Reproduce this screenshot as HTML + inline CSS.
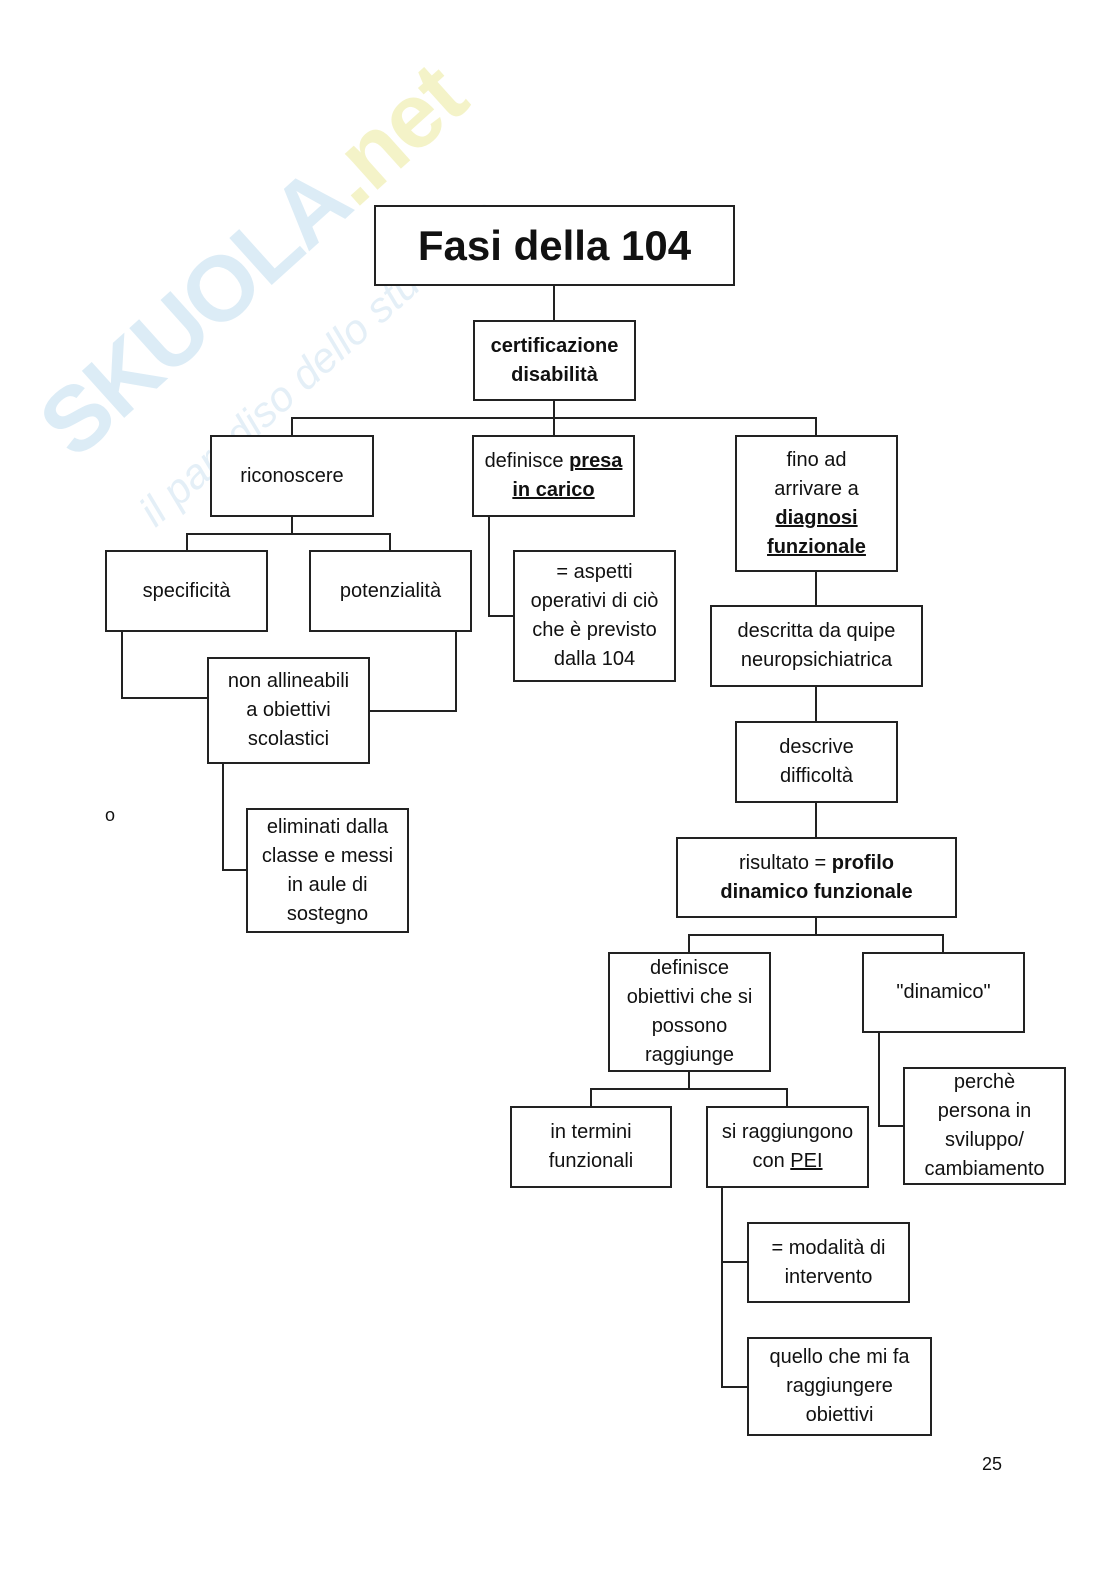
<!DOCTYPE html>
<html><head><meta charset="utf-8"><style>
body{margin:0;width:1116px;height:1578px;background:#fff;position:relative;overflow:hidden;font-family:"Liberation Sans","DejaVu Sans",sans-serif;color:#111}
.b{position:absolute;border:2px solid #222;box-sizing:border-box;display:flex;align-items:center;justify-content:center;text-align:center;font-size:20px;line-height:29px;background:#fff}
u{text-decoration:underline}
.wm{position:absolute;font-weight:bold;transform:rotate(-42deg);transform-origin:left top;white-space:nowrap}
</style></head><body>
<div class="wm" style="left:20px;top:400px;font-size:92px;color:#dcecf6;letter-spacing:-2px">SKUOLA<span style="color:#f4f3c8">.net</span></div>
<div class="wm" style="left:130px;top:500px;font-size:42px;color:#e4eff7;font-weight:normal;font-style:italic">il paradiso dello studente</div>
<svg style="position:absolute;left:0;top:0" width="1116" height="1578" fill="none" stroke="#222" stroke-width="2">
<path d="M554 286V320M554 401V435M292 435V418H816V435M292 517V534M187 550V534H390V550M489 517V616H513M816 572V605M816 687V721M816 803V837M122 632V698H207M456 632V711H370M223 764V870H246M816 918V935M689 952V935H943V952M689 1072V1089M591 1106V1089H787V1106M879 1033V1126H903M722 1188V1387H747M722 1262H747"/>
</svg>
<div class="b" style="left:374px;top:205px;width:361px;height:81px;font-size:42px;font-weight:bold">Fasi della 104</div>
<div class="b" style="left:473px;top:320px;width:163px;height:81px;font-weight:bold">certificazione<br>disabilità</div>
<div class="b" style="left:210px;top:435px;width:164px;height:82px">riconoscere</div>
<div class="b" style="left:472px;top:435px;width:163px;height:82px"><span>definisce <b><u>presa</u></b><br><b><u>in carico</u></b></span></div>
<div class="b" style="left:735px;top:435px;width:163px;height:137px"><span>fino ad<br>arrivare a<br><b><u>diagnosi</u></b><br><b><u>funzionale</u></b></span></div>
<div class="b" style="left:105px;top:550px;width:163px;height:82px">specificità</div>
<div class="b" style="left:309px;top:550px;width:163px;height:82px">potenzialità</div>
<div class="b" style="left:513px;top:550px;width:163px;height:132px">= aspetti<br>operativi di ciò<br>che è previsto<br>dalla 104</div>
<div class="b" style="left:710px;top:605px;width:213px;height:82px">descritta da quipe<br>neuropsichiatrica</div>
<div class="b" style="left:207px;top:657px;width:163px;height:107px">non allineabili<br>a obiettivi<br>scolastici</div>
<div class="b" style="left:735px;top:721px;width:163px;height:82px">descrive<br>difficoltà</div>
<div class="b" style="left:246px;top:808px;width:163px;height:125px">eliminati dalla<br>classe e messi<br>in aule di<br>sostegno</div>
<div class="b" style="left:676px;top:837px;width:281px;height:81px"><span>risultato = <b>profilo</b><br><b>dinamico funzionale</b></span></div>
<div class="b" style="left:608px;top:952px;width:163px;height:120px">definisce<br>obiettivi che si<br>possono<br>raggiunge</div>
<div class="b" style="left:862px;top:952px;width:163px;height:81px">"dinamico"</div>
<div class="b" style="left:510px;top:1106px;width:162px;height:82px">in termini<br>funzionali</div>
<div class="b" style="left:706px;top:1106px;width:163px;height:82px"><span>si raggiungono<br>con <u>PEI</u></span></div>
<div class="b" style="left:903px;top:1067px;width:163px;height:118px">perchè<br>persona in<br>sviluppo/<br>cambiamento</div>
<div class="b" style="left:747px;top:1222px;width:163px;height:81px">= modalità di<br>intervento</div>
<div class="b" style="left:747px;top:1337px;width:185px;height:99px">quello che mi fa<br>raggiungere<br>obiettivi</div>
<div style="position:absolute;left:105px;top:805px;font-size:18px">o</div>
<div style="position:absolute;left:982px;top:1454px;font-size:18px">25</div>
</body></html>
